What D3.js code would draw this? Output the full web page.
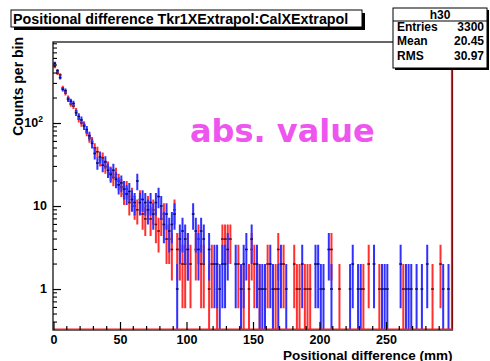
<!DOCTYPE html>
<html>
<head>
<meta charset="utf-8">
<script src="https://cdn.jsdelivr.net/npm/d3@7"></script>
<style>
  html, body { margin: 0; padding: 0; background: #fff; }
  svg { display: block; font-family: "Liberation Sans", Arial, Helvetica, sans-serif; }
</style>
</head>
<body>
<svg id="chart" width="490" height="361"></svg>
<script>
// Histogram binning: 150 bins of 2 mm between 0 and 300 mm
const binEdges = [0, 300];
const binCount = 150;

// h30 (blue) bin contents
const blueCounts = [
  525, 426, 352, 255, 245, 193, 183, 172, 133, 120,
  109,  92,  83,  70,  57,  43,  33,  39,  31,  34,
   27,  24,  27,  21,  18,  19,  16,  14,  15,  12,
   11,  20,  11,  12,  11,   9,  11,   8,  11,  13,
   10,   6,   8,   5,   6,   8,   1,   4,   5,   4,
    3,   0,   8,   5,   3,   5,   4,   0,   3,   0,
    2,   2,   1,   2,   2,   3,   0,   0,   2,   0,
    1,   2,   3,   0,   4,   0,   2,   1,   1,   1,
    0,   2,   1,   0,   1,   2,   0,   1,   0,   0,
    0,   0,   0,   2,   0,   0,   0,   0,   2,   2,
    1,   1,   0,   3,   1,   0,   0,   0,   0,   0,
    0,   1,   2,   0,   1,   1,   0,   0,   0,   0,
    2,   0,   0,   1,   1,   1,   0,   0,   0,   0,
    2,   0,   1,   1,   1,   0,   1,   0,   1,   0,
    2,   0,   0,   0,   0,   0,   1,   0,   1,   0
];

// Overlaid (red) bin contents
const redCounts = [
  480, 400, 379, 265, 230, 200, 170, 160, 140, 112,
  100,  95,  78,  66,  60,  50,  45,  36,  38,  30,
   29,  25,  22,  24,  20,  17,  14,  16,  11,  13,
   10,   9,  12,   8,   7,  10,   7,   9,   6,   5,
    7,   8,   4,   4,   3,   9,   3,   3,   2,   2,
    3,   2,   0,   3,   4,   2,   2,   0,   1,   2,
    0,   1,   0,   4,   4,   4,   4,   0,   0,   2,
    0,   1,   0,   1,   3,   2,   0,   1,   0,   1,
    2,   0,   1,   1,   3,   0,   2,   0,   0,   0,
    2,   1,   1,   0,   1,   1,   1,   0,   0,   0,
    0,   0,   0,   0,   3,   0,   0,   1,   0,   0,
    0,   0,   0,   0,   0,   0,   1,   0,   2,   0,
    0,   0,   1,   0,   0,   0,   0,   0,   0,   0,
    0,   1,   0,   0,   0,   0,   0,   0,   0,   0,
    0,   0,   1,   0,   0,   2,   0,   0,   0,   0
];

const xTickValues = [0, 50, 100, 150, 200, 250];
const yTickValues = [1, 10, 100];
const yRange = [0.321, 946];

const titleText = "Positional difference Tkr1XExtrapol:CalXExtrapol";
const xTitle = "Positional difference (mm)";
const yTitle = "Counts per bin";
const statsName = "h30";
const statsRows = [["Entries", "3300"], ["Mean", "20.45"], ["RMS", "30.97"]];
const noteText = "abs. value";

const svg = d3.select("#chart");
const frame = { left: 53, top: 42, right: 452.5, bottom: 330 };

const x = d3.scaleLinear().domain(binEdges).range([frame.left + 0.5, frame.right]);
const y = d3.scaleLog().domain(yRange).range([frame.bottom, frame.top]);
const binW = (binEdges[1] - binEdges[0]) / binCount;

svg.append("defs").append("clipPath").attr("id", "plotClip")
  .append("rect")
  .attr("x", frame.left).attr("y", frame.top)
  .attr("width", frame.right - frame.left).attr("height", frame.bottom - frame.top);

// error-bar histograms: vertical sqrt(N) error, horizontal bin width, small dark marker
function drawHist(counts, color, cls) {
  const data = counts.map((v, i) => ({ i, v })).filter(d => d.v > 0);
  const g = svg.append("g").attr("class", cls).attr("clip-path", "url(#plotClip)");
  g.selectAll("line.ev").data(data).join("line").attr("class", "ev")
    .attr("x1", d => x((d.i + 0.5) * binW)).attr("x2", d => x((d.i + 0.5) * binW))
    .attr("y1", d => { const lo = d.v - Math.sqrt(d.v); return lo > yRange[0] ? y(lo) : frame.bottom + 2; })
    .attr("y2", d => y(d.v + Math.sqrt(d.v)))
    .attr("stroke", color).attr("stroke-width", 2);
  g.selectAll("line.eh").data(data).join("line").attr("class", "eh")
    .attr("x1", d => x(d.i * binW)).attr("x2", d => x((d.i + 1) * binW))
    .attr("y1", d => y(d.v)).attr("y2", d => y(d.v))
    .attr("stroke", color).attr("stroke-width", 1.5);
  g.selectAll("rect.mk").data(data).join("rect").attr("class", "mk")
    .attr("x", d => x((d.i + 0.5) * binW) - 1.2).attr("width", 2.4)
    .attr("y", d => y(d.v) - 0.75).attr("height", 1.5)
    .attr("fill", "#000").attr("opacity", 0.7);
}
drawHist(redCounts, "#ff3030", "hred");
drawHist(blueCounts, "#3030ff", "hblue");

// frame
svg.append("rect")
  .attr("x", frame.left).attr("y", frame.top)
  .attr("width", frame.right - frame.left).attr("height", frame.bottom - frame.top)
  .attr("fill", "none").attr("stroke", "#000").attr("stroke-width", 1.2);
svg.append("line").attr("x1", frame.left).attr("x2", frame.right)
  .attr("y1", frame.bottom - 0.8).attr("y2", frame.bottom - 0.8)
  .attr("stroke", "#ff1a1a").attr("stroke-width", 1.6);
svg.append("line").attr("x1", frame.right - 0.8).attr("x2", frame.right - 0.8)
  .attr("y1", frame.top).attr("y2", frame.bottom)
  .attr("stroke", "#ff1a1a").attr("stroke-width", 1.6);

// x axis: major every 50, minor every 10, ticks pointing inward
const xMinor = d3.range(0, 301, 10).filter(v => v % 50 !== 0);
const xAxis = d3.axisBottom(x).tickValues(xTickValues).tickSize(-8).tickPadding(5.5).tickFormat(d3.format("d"));
const gx = svg.append("g").attr("transform", `translate(0,${frame.bottom})`).call(xAxis);
gx.select(".domain").remove();
gx.selectAll(".tick line").attr("stroke", "#000").attr("stroke-width", 1.2);
gx.selectAll(".tick text").attr("font-size", 12.5).attr("font-weight", "bold").attr("fill", "#000")
  .attr("font-family", "'Liberation Sans', Arial, sans-serif");
svg.append("g").selectAll("line").data(xMinor).join("line")
  .attr("x1", d => x(d)).attr("x2", d => x(d))
  .attr("y1", frame.bottom).attr("y2", frame.bottom - 4)
  .attr("stroke", "#000").attr("stroke-width", 1.2);

// y axis: log decades with minor ticks
const yMinor = [];
[0.1, 1, 10, 100].forEach(dec => { for (let k = 2; k <= 9; k++) { const v = k * dec; if (v > yRange[0] && v < yRange[1]) yMinor.push(v); } });
const yAxis = d3.axisLeft(y).tickValues(yTickValues).tickSize(-8).tickPadding(8).tickFormat(() => "");
const gy = svg.append("g").attr("transform", `translate(${frame.left},0)`).call(yAxis);
gy.select(".domain").remove();
gy.selectAll(".tick line").attr("stroke", "#000").attr("stroke-width", 1.2);
svg.append("g").selectAll("line").data(yMinor).join("line")
  .attr("x1", frame.left).attr("x2", frame.left + 4)
  .attr("y1", d => y(d)).attr("y2", d => y(d))
  .attr("stroke", "#000").attr("stroke-width", 1.1);
const yLab = svg.append("g").attr("font-size", 12.5).attr("font-weight", "bold").attr("text-anchor", "end");
yTickValues.forEach(v => {
  const t = yLab.append("text").attr("x", frame.left - 6).attr("y", y(v) + 4);
  if (v >= 100) {
    t.attr("x", frame.left - 10);
    t.append("tspan").text("10");
    t.append("tspan").attr("font-size", 8.5).attr("dy", -5).text(String(Math.round(Math.log10(v))));
  } else {
    t.text(String(v));
  }
});

// axis titles
svg.append("text").attr("x", frame.right).attr("y", 359.5)
  .attr("text-anchor", "end").attr("font-size", 13.5).attr("font-weight", "bold").text(xTitle);
svg.append("text").attr("transform", `translate(23,${frame.top - 5}) rotate(-90)`)
  .attr("text-anchor", "end").attr("font-size", 14).attr("font-weight", "bold").text(yTitle);

// title box with shadow
svg.append("rect").attr("x", 14).attr("y", 13).attr("width", 351).attr("height", 17).attr("fill", "#000");
svg.append("rect").attr("x", 11).attr("y", 10).attr("width", 351).attr("height", 17)
  .attr("fill", "#fff").attr("stroke", "#000").attr("stroke-width", 1);
svg.append("text").attr("x", 13).attr("y", 23.5).attr("font-size", 14.3).attr("font-weight", "bold").text(titleText);

// statistics box with shadow
const sb = { x: 393, y: 8, w: 94, h: 60 };
svg.append("rect").attr("x", sb.x + 2).attr("y", sb.y + 2).attr("width", sb.w).attr("height", sb.h).attr("fill", "#000");
svg.append("rect").attr("x", sb.x).attr("y", sb.y).attr("width", sb.w).attr("height", sb.h)
  .attr("fill", "#fff").attr("stroke", "#000").attr("stroke-width", 1);
svg.append("line").attr("x1", sb.x).attr("x2", sb.x + sb.w).attr("y1", sb.y + 13).attr("y2", sb.y + 13)
  .attr("stroke", "#000").attr("stroke-width", 1);
svg.append("text").attr("x", sb.x + sb.w / 2).attr("y", sb.y + 10.5).attr("text-anchor", "middle")
  .attr("font-size", 12).attr("font-weight", "bold").text(statsName);
statsRows.forEach((r, k) => {
  const by = sb.y + 23 + k * 14.3;
  svg.append("text").attr("x", sb.x + 4).attr("y", by).attr("font-size", 12).attr("font-weight", "bold").text(r[0]);
  svg.append("text").attr("x", sb.x + sb.w - 3).attr("y", by).attr("text-anchor", "end")
    .attr("font-size", 12).attr("font-weight", "bold").text(r[1]);
});

// annotation
svg.append("text").attr("x", 190).attr("y", 142).attr("font-size", 32)
  .attr("font-family", "'DejaVu Sans', Verdana, sans-serif").attr("font-weight", "bold")
  .attr("fill", "#ee55ee").text(noteText);
</script>
</body>
</html>
